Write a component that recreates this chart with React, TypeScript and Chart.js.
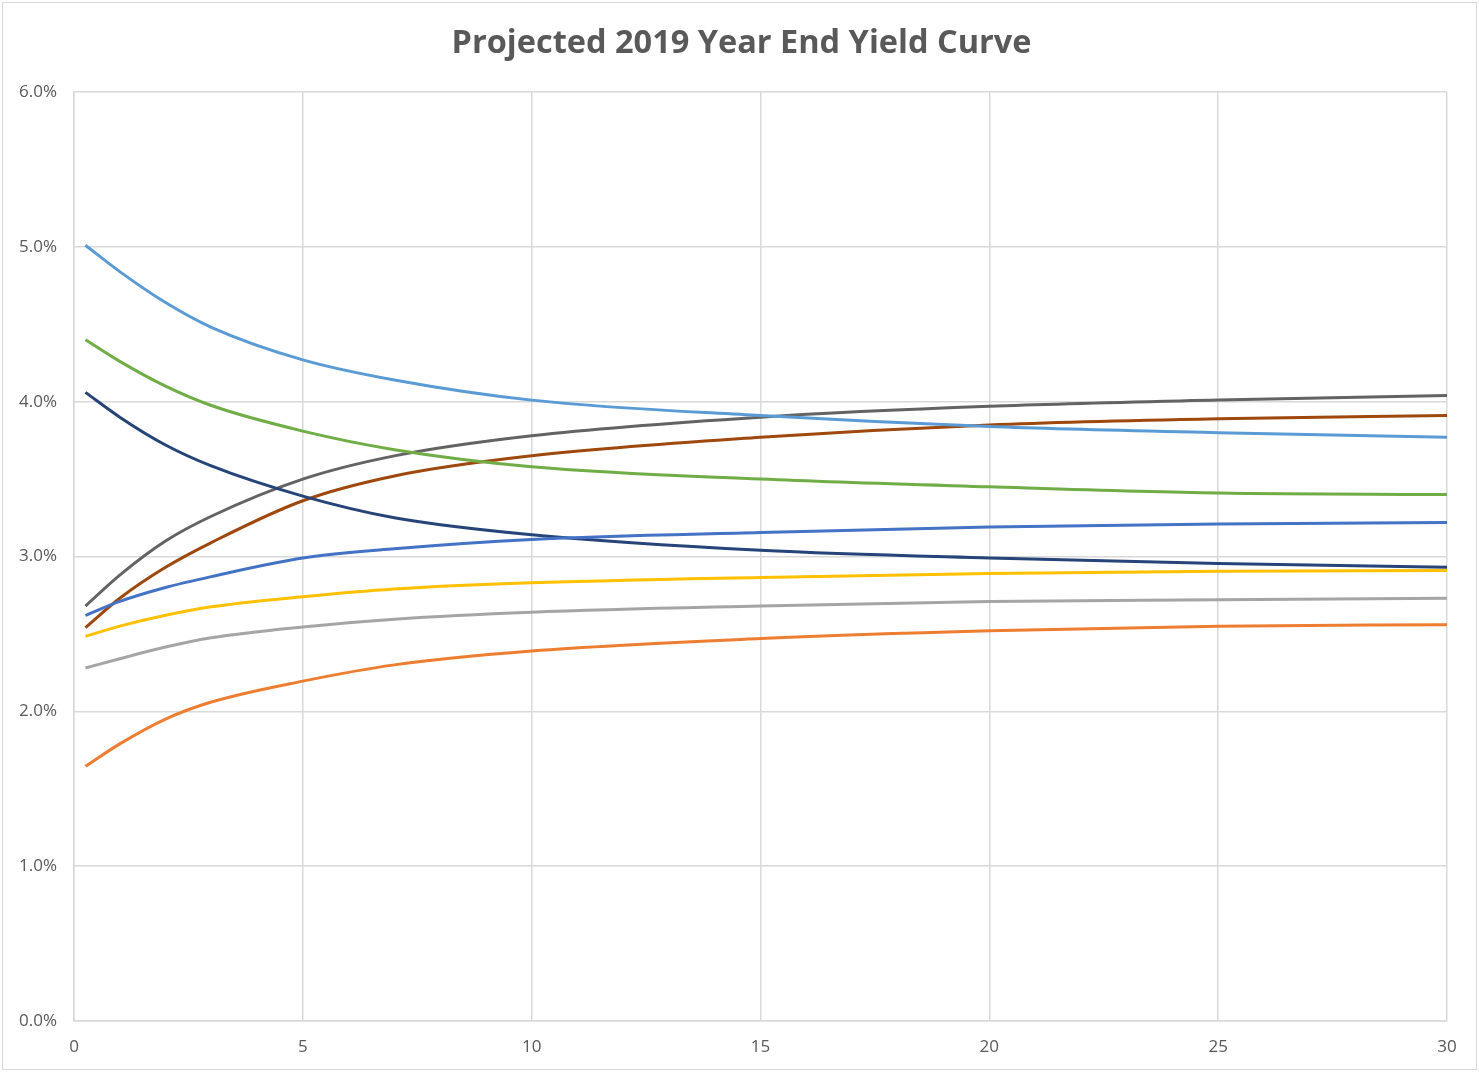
import React, { useEffect, useRef } from "react";
import { Chart, registerables } from "chart.js";

Chart.register(...registerables);

// Maturities in years
const maturities = [0.25, 1, 2, 3, 5, 7, 10, 15, 20, 25, 30];

// Projected yields (%) per scenario
const series1 = [5.01, 4.84, 4.64, 4.48, 4.27, 4.14, 4.01, 3.91, 3.84, 3.80, 3.77];
const series2 = [1.645, 1.79, 1.95, 2.06, 2.195, 2.30, 2.39, 2.47, 2.52, 2.55, 2.56];
const series3 = [2.28, 2.34, 2.415, 2.475, 2.545, 2.595, 2.64, 2.68, 2.71, 2.72, 2.73];
const series4 = [2.485, 2.55, 2.62, 2.675, 2.74, 2.79, 2.83, 2.865, 2.89, 2.905, 2.91];
const series5 = [2.62, 2.71, 2.80, 2.87, 2.99, 3.05, 3.11, 3.155, 3.19, 3.21, 3.22];
const series6 = [4.40, 4.26, 4.10, 3.975, 3.81, 3.69, 3.58, 3.50, 3.45, 3.41, 3.40];
const series7 = [4.06, 3.90, 3.72, 3.585, 3.39, 3.25, 3.14, 3.04, 2.99, 2.955, 2.93];
const series8 = [2.54, 2.73, 2.93, 3.09, 3.36, 3.52, 3.65, 3.77, 3.85, 3.89, 3.91];
const series9 = [2.68, 2.88, 3.10, 3.26, 3.50, 3.65, 3.78, 3.90, 3.97, 4.01, 4.04];

const seriesNames = [
  "Scenario 1", "Scenario 2", "Scenario 3", "Scenario 4", "Scenario 5",
  "Scenario 6", "Scenario 7", "Scenario 8", "Scenario 9",
];
const seriesValues = [series1, series2, series3, series4, series5, series6, series7, series8, series9];
const seriesColors = [
  "#5B9BD5", "#ED7D31", "#A5A5A5", "#FFC000", "#4472C4",
  "#70AD47", "#264478", "#9E480E", "#636363",
];

const titleText = "Projected 2019 Year End Yield Curve";
const FONT = "'Open Sans', sans-serif";
const TEXT = "#595959";
const GRID = "#d9d9d9";

// Draws the chart heading centred on the whole frame
const headingPlugin = {
  id: "heading",
  afterDraw(chart: any) {
    const { ctx, width } = chart;
    ctx.save();
    ctx.fillStyle = TEXT;
    ctx.font = `bold 32.5px ${FONT}`;
    ctx.textAlign = "center";
    ctx.textBaseline = "middle";
    ctx.fillText(titleText, width / 2 + 2, 44);
    ctx.restore();
  },
};

export default function App() {
  const canvasRef = useRef<HTMLCanvasElement | null>(null);

  useEffect(() => {
    const canvas = canvasRef.current;
    if (!canvas) return;
    const chart = new Chart(canvas, {
      type: "line",
      data: {
        datasets: seriesValues.map((vals, i) => ({
          label: seriesNames[i],
          data: vals.map((v, j) => ({ x: maturities[j], y: v })),
          borderColor: seriesColors[i],
          backgroundColor: seriesColors[i],
          borderWidth: 3,
          pointRadius: 0,
          fill: false,
          cubicInterpolationMode: "monotone" as const,
        })),
      },
      plugins: [headingPlugin],
      options: {
        responsive: false,
        animation: false,
        layout: { padding: { left: 0, right: 32, top: 92, bottom: 0 } },
        plugins: {
          legend: { display: false },
          tooltip: { enabled: false },
          title: { display: false },
        },
        scales: {
          x: {
            type: "linear",
            min: 0,
            max: 30,
            afterFit: (scale: any) => {
              scale.height = 51;
            },
            ticks: {
              stepSize: 5,
              color: TEXT,
              font: { family: FONT, size: 17 },
              padding: 16,
              maxRotation: 0,
            },
            grid: { color: GRID, lineWidth: 1.5, drawTicks: false },
            border: { color: GRID, width: 1.5 },
          },
          y: {
            min: 0,
            max: 6,
            afterFit: (scale: any) => {
              scale.width = 74;
            },
            ticks: {
              stepSize: 1,
              color: TEXT,
              font: { family: FONT, size: 17 },
              padding: 17,
              callback: (v: any) => Number(v).toFixed(1) + "%",
            },
            grid: { color: GRID, lineWidth: 1.5, drawTicks: false },
            border: { color: GRID, width: 1.5 },
          },
        },
      },
    });
    return () => chart.destroy();
  }, []);

  return (
    <div style={{ position: "fixed", left: 0, top: 0, width: 1479, height: 1072, background: "#fff" }}>
      <canvas ref={canvasRef} width={1479} height={1072} style={{ display: "block" }} />
      <div
        style={{
          position: "absolute",
          left: 2,
          top: 2,
          width: 1475,
          height: 1068,
          boxSizing: "border-box",
          border: "1.5px solid #d9d9d9",
          pointerEvents: "none",
        }}
      />
    </div>
  );
}
